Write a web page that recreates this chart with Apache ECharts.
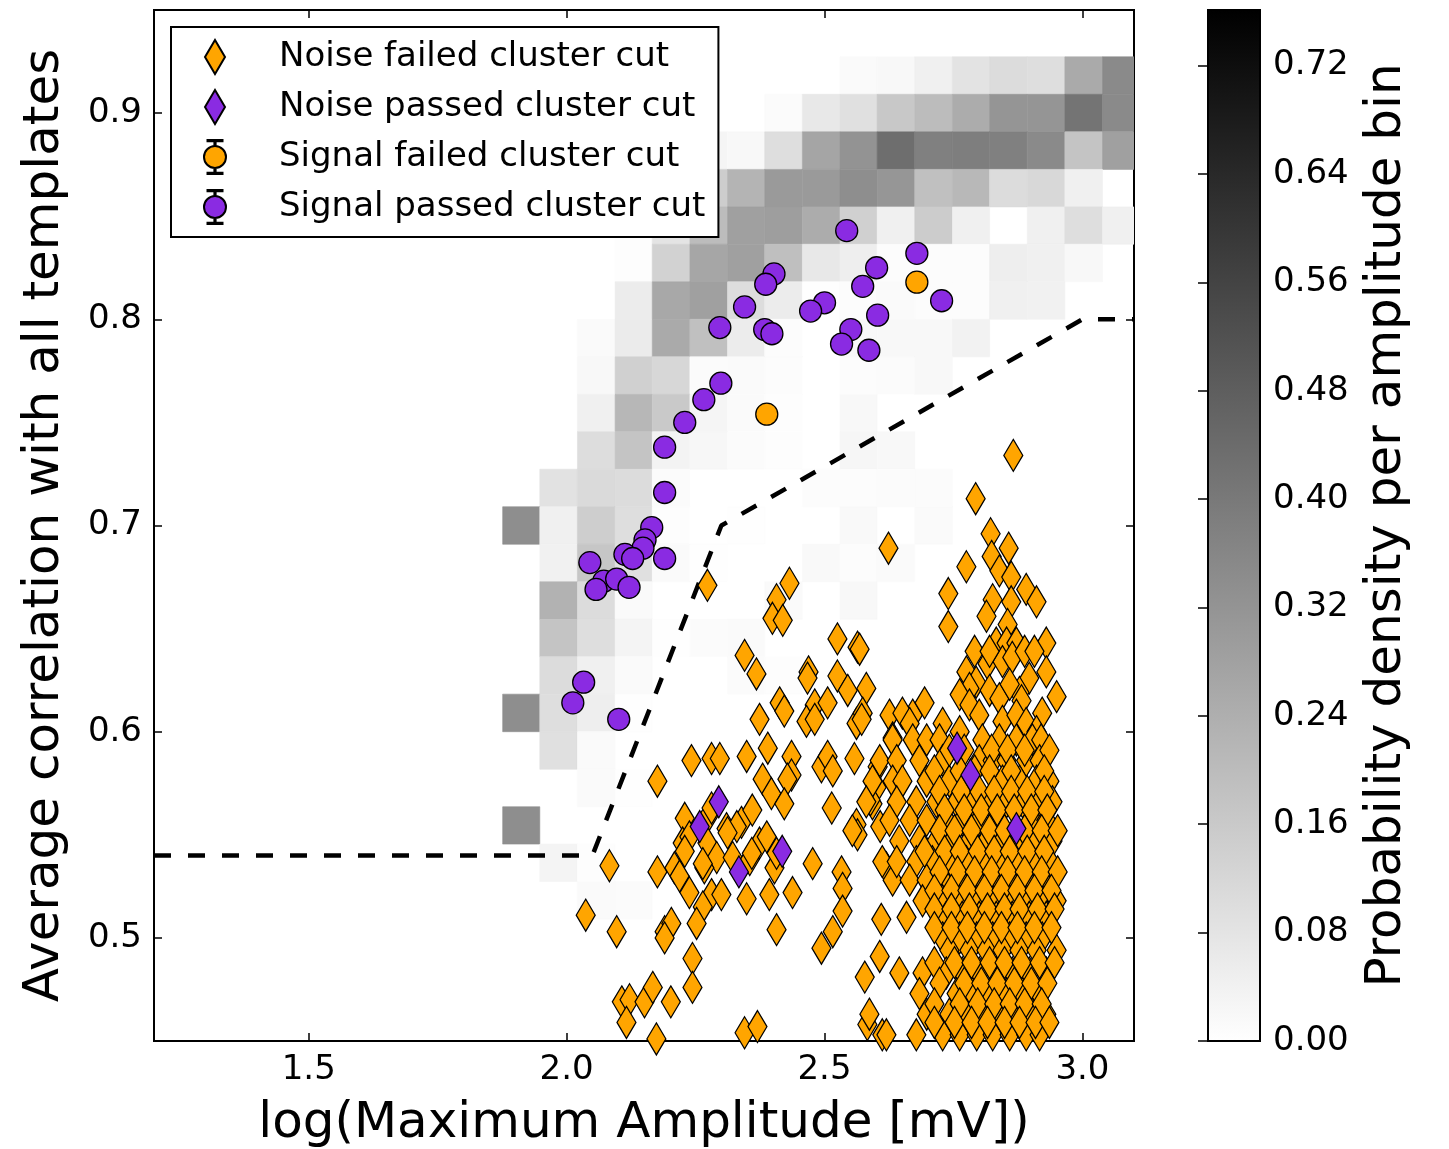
<!DOCTYPE html>
<html><head><meta charset="utf-8">
<script src="https://cdn.jsdelivr.net/npm/echarts@6/dist/echarts.min.js"></script>
<style>html,body{margin:0;padding:0;background:#fff}#main{width:1449px;height:1149px}</style>
</head><body><div id="main"></div>
<script>
// ---- heat-map (probability density per amplitude bin) ----
const xBinEdges = [1.876, 1.948, 2.021, 2.094, 2.166, 2.239, 2.312, 2.384, 2.457, 2.530, 2.602, 2.675, 2.748, 2.820, 2.893, 2.966, 3.039, 3.111];
const yBinEdges = [0.9273, 0.9091, 0.8909, 0.8727, 0.8545, 0.8364, 0.8182, 0.8000, 0.7818, 0.7636, 0.7455, 0.7273, 0.7091, 0.6909, 0.6727, 0.6545, 0.6364, 0.6182, 0.6000, 0.5818, 0.5636, 0.5455, 0.5273, 0.5091];
const density = [
  [0,0,0,0,0,0,0,0,0,0.015,0.021,0.045,0.084,0.104,0.098,0.254,0.349],
  [0,0,0,0,0,0,0,0.012,0.069,0.093,0.164,0.200,0.248,0.316,0.316,0.415,0.349],
  [0,0,0,0,0,0.030,0.021,0.098,0.269,0.322,0.433,0.379,0.385,0.379,0.349,0.176,0.283],
  [0,0,0,0,0,0.150,0.224,0.301,0.301,0.337,0.313,0.188,0.212,0.104,0.116,0.045,0],
  [0,0,0,0.006,0.080,0.200,0.283,0.289,0.248,0.140,0.045,0.152,0.045,0,0.045,0.098,0.045],
  [0,0,0,0.006,0.134,0.266,0.285,0.190,0.069,0.051,0.009,0.009,0.009,0.051,0.045,0.021,0],
  [0,0,0,0.057,0.260,0.283,0.100,0.057,0.003,0.009,0.015,0.009,0.009,0.045,0.042,0,0],
  [0,0,0.015,0.060,0.254,0.188,0.057,0.009,0,0.021,0.021,0.021,0.039,0,0,0,0],
  [0,0,0.021,0.140,0.120,0.012,0.015,0.009,0,0.009,0.012,0.021,0,0,0,0,0],
  [0,0,0.045,0.215,0.160,0.030,0.015,0.006,0,0.021,0,0,0,0,0,0,0],
  [0,0,0.100,0.176,0.036,0.025,0.012,0.006,0,0.027,0.021,0,0,0,0,0,0],
  [0,0.087,0.110,0.104,0.012,0,0,0,0.009,0.009,0.012,0.012,0,0,0,0,0],
  [0.337,0.045,0.146,0.098,0.006,0,0.003,0,0,0.018,0,0.015,0,0,0,0,0],
  [0,0.042,0.170,0.093,0.015,0.003,0,0,0.018,0.009,0.015,0,0,0,0,0,0],
  [0,0.230,0.104,0.015,0,0,0,0.015,0,0.021,0,0,0,0,0,0,0],
  [0,0.176,0.098,0.033,0.003,0.012,0.015,0,0,0,0,0,0,0,0,0,0],
  [0,0.104,0.045,0.015,0,0,0.012,0.006,0,0,0,0,0,0,0,0,0],
  [0.337,0.098,0.051,0.003,0,0,0,0,0,0,0,0,0,0,0,0,0],
  [0,0.093,0.015,0,0,0,0,0,0,0,0,0,0,0,0,0,0],
  [0,0,0.015,0.003,0,0,0,0,0,0,0,0,0,0,0,0,0],
  [0.337,0,0,0,0,0,0,0,0,0,0,0,0,0,0,0,0],
  [0,0.033,0.006,0,0,0,0,0,0,0,0,0,0,0,0,0,0],
  [0,0,0.015,0.012,0,0,0,0,0,0,0,0,0,0,0,0,0]
];
const densityMax = 0.761;

// ---- scatter data: [log(max amplitude), average correlation] ----
const noiseFailed = [
  [2.273,0.671],[2.432,0.672],[2.407,0.664],[2.399,0.655],[2.419,0.654],[2.525,0.645],[2.564,0.641],[2.345,0.637],[2.368,0.628],[2.469,0.629],[2.467,0.626],[2.525,0.627],[2.545,0.620],[2.581,0.621],[2.413,0.614],[2.422,0.610],[2.374,0.606],[2.481,0.613],[2.465,0.605],[2.481,0.606],[2.506,0.614],[2.562,0.604],[2.574,0.609],
  [2.242,0.586],[2.281,0.587],[2.297,0.587],[2.349,0.588],[2.390,0.592],[2.436,0.588],[2.436,0.579],[2.428,0.577],[2.176,0.576],[2.380,0.577],[2.397,0.570],[2.422,0.565],[2.494,0.583],[2.506,0.588],[2.516,0.581],[2.558,0.587],[2.603,0.583],[2.601,0.573],[2.593,0.565],[2.514,0.563],[2.562,0.555],[2.564,0.550],[2.554,0.552],
  [2.229,0.558],[2.225,0.546],[2.238,0.549],[2.229,0.542],[2.277,0.560],[2.310,0.553],[2.339,0.556],[2.360,0.562],[2.273,0.546],[2.291,0.539],[2.267,0.534],[2.264,0.536],[2.322,0.539],[2.355,0.538],[2.374,0.546],[2.388,0.549],[2.359,0.541],[2.403,0.534],[2.407,0.541],[2.477,0.536],[2.533,0.532],[2.535,0.524],[2.620,0.534],[2.632,0.528],
  [2.083,0.535],[2.176,0.532],[2.209,0.534],[2.219,0.530],[2.238,0.522],[2.281,0.521],[2.300,0.521],[2.264,0.515],[2.252,0.507],[2.349,0.519],[2.393,0.521],[2.438,0.522],[2.535,0.513],[2.516,0.503],[2.494,0.495],[2.610,0.509],[2.607,0.491],
  [2.037,0.511],[2.097,0.503],[2.190,0.503],[2.203,0.507],[2.190,0.500],[2.244,0.490],[2.244,0.476],[2.407,0.504],[2.578,0.481],[2.107,0.469],[2.122,0.470],[2.116,0.459],[2.151,0.469],[2.167,0.476],[2.202,0.469],[2.174,0.451],[2.345,0.454],[2.370,0.457],[2.583,0.458],[2.612,0.453],
  [2.626,0.608],[2.632,0.597],[2.281,0.563],[2.330,0.554],[2.312,0.551],[2.589,0.567],[2.608,0.554],
  [2.866,0.734],[2.793,0.713],[2.822,0.696],[2.857,0.689],[2.824,0.685],[2.839,0.678],[2.624,0.689],[2.775,0.680],[2.862,0.675],[2.891,0.669],[2.911,0.663],[2.826,0.664],[2.814,0.656],[2.862,0.663],[2.855,0.652],[2.740,0.667],[2.740,0.651],[2.930,0.643],[2.930,0.629],[2.833,0.643],[2.853,0.643],[2.872,0.643],[2.816,0.633],[2.845,0.634],[2.864,0.636],[2.897,0.626],[2.878,0.619],[2.775,0.629],[2.794,0.624],[2.781,0.621],[2.922,0.609],[2.568,0.640],[2.572,0.606],[2.671,0.608],[2.694,0.614],[2.762,0.618],[2.781,0.613],[2.800,0.608],[2.820,0.620],[2.839,0.616],[2.859,0.623],[2.882,0.615],[2.845,0.605],[2.872,0.608],[2.891,0.604],[2.911,0.600],[2.651,0.609],[2.665,0.604],[2.729,0.604],[2.762,0.600],[2.950,0.617],
  [2.791,0.639],[2.820,0.639],[2.888,0.639],[2.907,0.639],
  [2.632,0.596],[2.671,0.596],[2.698,0.596],[2.723,0.596],[2.806,0.596],[2.839,0.596],[2.872,0.596],[2.903,0.596],[2.920,0.596],
  [2.607,0.586],[2.640,0.586],[2.684,0.586],[2.729,0.586],[2.800,0.586],[2.826,0.586],[2.853,0.586],[2.891,0.586],[2.917,0.586],
  [2.593,0.576],[2.632,0.576],[2.651,0.576],[2.698,0.576],[2.742,0.576],[2.845,0.576],[2.878,0.576],[2.911,0.576],[2.936,0.576],
  [2.581,0.566],[2.640,0.566],[2.678,0.566],[2.717,0.566],[2.756,0.566],[2.787,0.566],[2.820,0.566],[2.853,0.566],[2.884,0.566],[2.917,0.566],[2.942,0.566],
  [2.626,0.557],[2.665,0.557],[2.698,0.557],[2.736,0.557],[2.767,0.557],[2.800,0.557],[2.833,0.557],[2.903,0.557],[2.930,0.557],
  [2.645,0.547],[2.684,0.547],[2.717,0.547],[2.748,0.547],[2.781,0.547],[2.814,0.547],[2.845,0.547],[2.878,0.547],[2.911,0.547],[2.942,0.547],
  [2.612,0.537],[2.640,0.537],[2.678,0.537],[2.709,0.537],[2.742,0.537],[2.775,0.537],[2.806,0.537],[2.839,0.537],[2.872,0.537],[2.903,0.537],[2.936,0.537],
  [2.665,0.528],[2.698,0.528],[2.729,0.528],[2.762,0.528],[2.795,0.528],[2.826,0.528],[2.859,0.528],[2.891,0.528],[2.922,0.528],
  [2.690,0.518],[2.729,0.518],[2.762,0.518],[2.795,0.518],[2.826,0.518],[2.859,0.518],[2.891,0.518],[2.922,0.518],[2.950,0.518],
  [2.659,0.510],[2.736,0.510],[2.767,0.510],[2.800,0.510],[2.833,0.510],[2.864,0.510],[2.897,0.510],[2.930,0.510],
  [2.729,0.500],[2.762,0.500],[2.795,0.500],[2.826,0.500],[2.859,0.500],[2.891,0.500],[2.922,0.500],
  [2.742,0.494],[2.781,0.494],[2.814,0.494],[2.845,0.494],[2.878,0.494],[2.911,0.494],[2.950,0.494],
  [2.645,0.483],[2.690,0.483],[2.736,0.483],[2.767,0.483],[2.800,0.483],[2.833,0.483],[2.864,0.483],[2.897,0.483],[2.930,0.483],
  [2.684,0.473],[2.756,0.473],[2.787,0.473],[2.820,0.473],[2.853,0.473],[2.884,0.473],[2.917,0.473],
  [2.587,0.463],[2.698,0.463],[2.742,0.463],[2.775,0.463],[2.806,0.463],[2.839,0.463],[2.872,0.463],[2.903,0.463],[2.930,0.463],
  [2.620,0.453],[2.678,0.453],[2.729,0.453],[2.762,0.453],[2.795,0.453],[2.826,0.453],[2.859,0.453],[2.891,0.453],[2.917,0.453],
  [2.742,0.591],[2.771,0.591],[2.824,0.591],[2.855,0.591],[2.888,0.591],[2.936,0.591],
  [2.713,0.581],[2.762,0.581],[2.791,0.581],[2.820,0.581],[2.862,0.581],[2.926,0.581],
  [2.723,0.571],[2.765,0.571],[2.800,0.571],[2.829,0.571],[2.862,0.571],[2.893,0.571],[2.926,0.571],
  [2.733,0.562],[2.771,0.562],[2.804,0.562],[2.835,0.562],[2.868,0.562],[2.901,0.562],[2.932,0.562],
  [2.723,0.552],[2.752,0.552],[2.785,0.552],[2.820,0.552],[2.849,0.552],[2.888,0.552],[2.921,0.552],[2.952,0.552],
  [2.694,0.542],[2.733,0.542],[2.762,0.542],[2.797,0.542],[2.829,0.542],[2.859,0.542],[2.893,0.542],[2.926,0.542],
  [2.723,0.532],[2.758,0.532],[2.791,0.532],[2.824,0.532],[2.855,0.532],[2.888,0.532],[2.921,0.532],[2.952,0.532],
  [2.713,0.523],[2.746,0.523],[2.777,0.523],[2.810,0.523],[2.843,0.523],[2.874,0.523],[2.907,0.523],[2.940,0.523],
  [2.713,0.514],[2.746,0.514],[2.781,0.514],[2.816,0.514],[2.849,0.514],[2.878,0.514],[2.913,0.514],[2.946,0.514],
  [2.713,0.505],[2.746,0.505],[2.777,0.505],[2.810,0.505],[2.843,0.505],[2.874,0.505],[2.907,0.505],[2.940,0.505],
  [2.713,0.488],[2.752,0.488],[2.785,0.488],[2.820,0.488],[2.849,0.488],[2.882,0.488],[2.917,0.488],[2.946,0.488],
  [2.723,0.478],[2.771,0.478],[2.804,0.478],[2.835,0.478],[2.868,0.478],[2.901,0.478],[2.932,0.478],
  [2.713,0.468],[2.762,0.468],[2.797,0.468],[2.829,0.468],[2.859,0.468],[2.888,0.468],[2.921,0.468],
  [2.713,0.459],[2.752,0.459],[2.785,0.459],[2.816,0.459],[2.849,0.459],[2.878,0.459],[2.909,0.459],[2.936,0.459]
];
const noisePassed = [[2.258,0.554],[2.295,0.566],[2.334,0.532],[2.418,0.542],[2.757,0.592],[2.783,0.579],[2.872,0.553]];
const signalFailed = [[2.388,0.754],[2.679,0.818]];
const signalPassed = [
  [2.543,0.843],[2.679,0.832],[2.601,0.825],[2.402,0.822],[2.386,0.817],[2.574,0.816],[2.727,0.809],[2.500,0.808],[2.473,0.804],[2.345,0.806],[2.603,0.802],[2.297,0.796],[2.384,0.795],[2.398,0.793],[2.551,0.795],[2.533,0.788],[2.586,0.785],[2.299,0.769],[2.266,0.761],[2.229,0.750],[2.190,0.738],[2.190,0.716],[2.165,0.699],[2.152,0.693],[2.148,0.689],[2.113,0.686],[2.128,0.684],[2.190,0.684],[2.045,0.682],[2.072,0.673],[2.097,0.674],[2.057,0.669],[2.121,0.670],[2.033,0.624],[2.012,0.614],[2.101,0.606]
];
const cutLine = [[1.2,0.54],[2.05,0.54],[2.30,0.70],[3.00,0.80],[3.10,0.80]];

// ---- ticks ----
const xTicks = [1.5, 2.0, 2.5, 3.0];
const yTicks = [0.5, 0.6, 0.7, 0.8, 0.9];
const cbTicks = [0, 0.08, 0.16, 0.24, 0.32, 0.40, 0.48, 0.56, 0.64, 0.72];

const FONT = 'DejaVu Sans';
const ORANGE = '#ffa500', PURPLE = '#8a2be2';

const cells = [];
for (let r = 0; r < density.length; r++) {
  for (let c = 0; c < density[r].length; c++) {
    const v = density[r][c];
    if (v > 0) cells.push([xBinEdges[c], xBinEdges[c + 1], yBinEdges[r + 1], yBinEdges[r], v]);
  }
}

const diamondIcon = 'path://M5,0 L10,8.5 L5,17 L0,8.5 Z';
const circleErrIcon = 'path://M11,6 A11,11 0 1,1 10.99,6 Z M10.4,0 L11.6,0 L11.6,6 L10.4,6 Z M3.5,0 L18.5,0 L18.5,1.2 L3.5,1.2 Z M10.4,28 L11.6,28 L11.6,34 L10.4,34 Z M3.5,32.8 L18.5,32.8 L18.5,34 L3.5,34 Z';

const mainAxisCommon = {
  type: 'value', gridIndex: 0, splitLine: { show: false },
  axisLine: { show: true, onZero: false, lineStyle: { color: '#000', width: 2 } },
};

const chart = echarts.init(document.getElementById('main'), null, { renderer: 'canvas' });
chart.setOption({
  animation: false,
  backgroundColor: '#fff',
  textStyle: { fontFamily: FONT, color: '#000' },
  grid: [
    { left: 154, top: 10, width: 980, height: 1031, containLabel: false, outerBoundsMode: 'none',
      show: true, borderColor: '#000', borderWidth: 2, backgroundColor: 'transparent' },
    { left: 1208, top: 10, width: 52, height: 1031, containLabel: false, outerBoundsMode: 'none',
      show: true, borderColor: '#000', borderWidth: 2,
      backgroundColor: { type: 'linear', x: 0, y: 0, x2: 0, y2: 1, colorStops: [{ offset: 0, color: '#000000' }, { offset: 1, color: '#ffffff' }] } }
  ],
  visualMap: {
    type: 'continuous', show: false, min: 0, max: densityMax, seriesIndex: 0, dimension: 4,
    inRange: { color: ['#ffffff', '#000000'] }
  },
  xAxis: [
    Object.assign({}, mainAxisCommon, {
      position: 'bottom', min: 1.2, max: 3.1,
      axisTick: { show: true, inside: true, length: 8, customValues: xTicks, lineStyle: { color: '#000', width: 1.5 } },
      axisLabel: { show: true, customValues: xTicks, formatter: v => v.toFixed(1), fontSize: 34, fontFamily: FONT, color: '#000', margin: 12 },
      name: 'log(Maximum Amplitude [mV])', nameLocation: 'middle', nameGap: 58,
      nameTextStyle: { fontSize: 50, fontFamily: FONT, color: '#000' }
    }),
    Object.assign({}, mainAxisCommon, {
      position: 'top', min: 1.2, max: 3.1,
      axisTick: { show: true, inside: true, length: 8, customValues: xTicks, lineStyle: { color: '#000', width: 1.5 } },
      axisLabel: { show: false }
    }),
    { type: 'value', gridIndex: 1, min: 0, max: 1, show: false }
  ],
  yAxis: [
    Object.assign({}, mainAxisCommon, {
      position: 'left', min: 0.45, max: 0.95,
      axisTick: { show: true, inside: true, length: 8, customValues: yTicks, lineStyle: { color: '#000', width: 1.5 } },
      axisLabel: { show: true, customValues: yTicks, formatter: v => v.toFixed(1), fontSize: 34, fontFamily: FONT, color: '#000', margin: 12 },
      name: 'Average correlation with all templates', nameLocation: 'middle', nameGap: 84,
      nameTextStyle: { fontSize: 50, fontFamily: FONT, color: '#000' }
    }),
    Object.assign({}, mainAxisCommon, {
      position: 'right', min: 0.45, max: 0.95,
      axisTick: { show: true, inside: true, length: 8, customValues: yTicks, lineStyle: { color: '#000', width: 1.5 } },
      axisLabel: { show: false }
    }),
    {
      type: 'value', gridIndex: 1, position: 'right', min: 0, max: densityMax, splitLine: { show: false },
      axisLine: { show: true, lineStyle: { color: '#000', width: 2 } },
      axisTick: { show: true, inside: true, length: 10, customValues: cbTicks, lineStyle: { color: '#000', width: 1.5 } },
      axisLabel: { show: true, customValues: cbTicks, formatter: v => v.toFixed(2), fontSize: 34, fontFamily: FONT, color: '#000', margin: 13 },
      name: 'Probability density per amplitude bin', nameLocation: 'middle', nameGap: 102,
      nameTextStyle: { fontSize: 50, fontFamily: FONT, color: '#000' }
    }
  ],
  legend: {
    orient: 'vertical', left: 171, top: 27,
    padding: [12, 13, 12, 32], itemGap: 14, itemWidth: 30, itemHeight: 34,
    backgroundColor: '#fff', borderColor: '#000', borderWidth: 2, borderRadius: 0,
    textStyle: { fontSize: 34, fontFamily: FONT, color: '#000', padding: [0, 0, 0, 44] },
    data: [
      { name: 'Noise failed cluster cut', icon: diamondIcon },
      { name: 'Noise passed cluster cut', icon: diamondIcon },
      { name: 'Signal failed cluster cut', icon: circleErrIcon },
      { name: 'Signal passed cluster cut', icon: circleErrIcon }
    ]
  },
  series: [
    {
      type: 'custom', name: 'density', xAxisIndex: 0, yAxisIndex: 0, clip: true, silent: true, z: 1,
      encode: { x: [0, 1], y: [2, 3] },
      data: cells,
      renderItem: function (params, api) {
        const p0 = api.coord([api.value(0), api.value(3)]);
        const p1 = api.coord([api.value(1), api.value(2)]);
        const col = api.visual('color');
        return {
          type: 'rect',
          shape: { x: p0[0], y: p0[1], width: p1[0] - p0[0], height: p1[1] - p0[1] },
          style: { fill: col, stroke: col, lineWidth: 0.6 }
        };
      }
    },
    {
      type: 'line', name: 'cut', xAxisIndex: 0, yAxisIndex: 0, data: cutLine, symbol: 'none', silent: true, z: 2,
      lineStyle: { color: '#000', width: 4.5, type: [17, 17] }
    },
    {
      type: 'scatter', name: 'Noise failed cluster cut', xAxisIndex: 0, yAxisIndex: 0, data: noiseFailed, z: 3,
      symbol: 'diamond', symbolSize: [19, 32],
      itemStyle: { color: ORANGE, borderColor: '#000', borderWidth: 1.3, opacity: 1 }
    },
    {
      type: 'scatter', name: 'Noise passed cluster cut', xAxisIndex: 0, yAxisIndex: 0, data: noisePassed, z: 4,
      symbol: 'diamond', symbolSize: [19, 32],
      itemStyle: { color: PURPLE, borderColor: '#000', borderWidth: 1.3, opacity: 1 }
    },
    {
      type: 'scatter', name: 'Signal failed cluster cut', xAxisIndex: 0, yAxisIndex: 0, data: signalFailed, z: 5,
      symbol: 'circle', symbolSize: 22,
      itemStyle: { color: ORANGE, borderColor: '#000', borderWidth: 1.3, opacity: 1 }
    },
    {
      type: 'scatter', name: 'Signal passed cluster cut', xAxisIndex: 0, yAxisIndex: 0, data: signalPassed, z: 6,
      symbol: 'circle', symbolSize: 22,
      itemStyle: { color: PURPLE, borderColor: '#000', borderWidth: 1.3, opacity: 1 }
    }
  ]
});
</script>
</body></html>
